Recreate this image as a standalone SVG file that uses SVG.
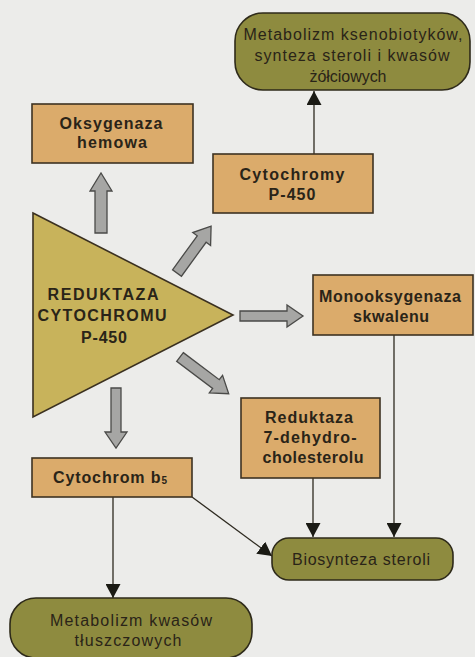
<svg xmlns="http://www.w3.org/2000/svg" width="475" height="657" viewBox="0 0 475 657">
<defs>
<style>
.box{fill:#dbab6b;stroke:#3e3222;stroke-width:1.6}
.term{fill:#8e8b3f;stroke:#2e2a1a;stroke-width:1.6}
.bt{font-family:"Liberation Sans",Arial,sans-serif;font-weight:bold;font-size:16px;fill:#2a2418;text-anchor:middle}
.tt{font-family:"Liberation Sans",Arial,sans-serif;font-size:16px;fill:#2a2418;text-anchor:middle}
.ln{stroke:#2e2a20;stroke-width:1.3;fill:none}
.blk{fill:#a6a6a4;stroke:#4a4a48;stroke-width:1.3}
</style>
<marker id="ahb" viewBox="0 0 10 10" refX="10" refY="5" markerWidth="14" markerHeight="15" markerUnits="userSpaceOnUse" orient="auto" preserveAspectRatio="none">
<path d="M0,0 L10,5 L0,10 z" fill="#1a1a14"/>
</marker>
</defs>
<rect width="475" height="657" fill="#ececea"/>

<g id="connectors">
<line class="ln" x1="314" y1="154" x2="314" y2="91" marker-end="url(#ahb)"/>
<line class="ln" x1="394" y1="335" x2="394" y2="537" marker-end="url(#ahb)"/>
<line class="ln" x1="313" y1="478" x2="313" y2="537" marker-end="url(#ahb)"/>
<line class="ln" x1="113" y1="497" x2="113" y2="598" marker-end="url(#ahb)"/>
<line class="ln" x1="192" y1="497" x2="272" y2="556" marker-end="url(#ahb)"/>
<g id="arrow-up"><path class="blk" d="M95,233 L95,191 L90,191 L101,173 L112,191 L107,191 L107,233 Z"/></g>
<g id="arrow-upright"><path class="blk" d="M0,-5.5 L42,-5.5 L42,-11 L58,0 L42,11 L42,5.5 L0,5.5 Z" transform="translate(177,273) rotate(-54)"/></g>
<g id="arrow-right"><path class="blk" d="M240,311 L287,311 L287,305 L303,316 L287,327 L287,321 L240,321 Z"/></g>
<g id="arrow-downright"><path class="blk" d="M0,-5.5 L45,-5.5 L45,-11 L61,0 L45,11 L45,5.5 L0,5.5 Z" transform="translate(180,357) rotate(37)"/></g>
<g id="arrow-down"><path class="blk" d="M111,388 L111,432 L105,432 L116,448 L127,432 L121,432 L121,388 Z"/></g>
</g>

<g id="reduktaza-cyp">
<polygon points="33,213 233,315 33,417" fill="#c8b35b" stroke="#3a3020" stroke-width="1.6"/>
<text class="bt" x="103" y="300" textLength="111" lengthAdjust="spacing">REDUKTAZA</text>
<text class="bt" x="102" y="321" textLength="129" lengthAdjust="spacing">CYTOCHROMU</text>
<text class="bt" x="104" y="343" textLength="46" lengthAdjust="spacing">P-450</text>
</g>

<g id="metab-kseno">
<rect class="term" x="235" y="13" width="235" height="77" rx="28"/>
<text class="tt" x="353" y="40" textLength="219" lengthAdjust="spacing">Metabolizm ksenobiotyków,</text>
<text class="tt" x="352" y="61" textLength="195" lengthAdjust="spacing">synteza steroli i kwasów</text>
<text class="tt" x="348" y="82" textLength="77" lengthAdjust="spacing">żółciowych</text>
</g>

<g id="oksygenaza">
<rect class="box" x="32" y="104" width="161" height="59"/>
<text class="bt" x="111" y="129" textLength="103" lengthAdjust="spacing">Oksygenaza</text>
<text class="bt" x="112" y="148" textLength="70" lengthAdjust="spacing">hemowa</text>
</g>

<g id="cytochromy">
<rect class="box" x="213" y="154" width="160" height="59"/>
<text class="bt" x="292" y="180" textLength="105" lengthAdjust="spacing">Cytochromy</text>
<text class="bt" x="292" y="200" textLength="47" lengthAdjust="spacing">P-450</text>
</g>

<g id="monooksygenaza">
<rect class="box" x="313" y="275" width="160" height="60"/>
<text class="bt" x="390" y="302" textLength="142" lengthAdjust="spacing">Monooksygenaza</text>
<text class="bt" x="391" y="322" textLength="76" lengthAdjust="spacing">skwalenu</text>
</g>

<g id="reduktaza-7">
<rect class="box" x="241" y="398" width="139" height="80"/>
<text class="bt" x="309" y="423" textLength="88" lengthAdjust="spacing">Reduktaza</text>
<text class="bt" x="310" y="443" textLength="93" lengthAdjust="spacing">7-dehydro-</text>
<text class="bt" x="313" y="463" textLength="101" lengthAdjust="spacing">cholesterolu</text>
</g>

<g id="cytochrom-b5">
<rect class="box" x="32" y="458" width="160" height="39"/>
<text class="bt" x="110" y="483" textLength="114" lengthAdjust="spacing">Cytochrom b<tspan font-size="10" dy="1">5</tspan></text>
</g>

<g id="biosynteza">
<rect class="term" x="272" y="538" width="181" height="42" rx="17"/>
<text class="tt" x="361" y="565" textLength="138" lengthAdjust="spacing">Biosynteza steroli</text>
</g>

<g id="metab-kwasow">
<rect class="term" x="10" y="598" width="242" height="60" rx="26"/>
<text class="tt" x="131" y="626" textLength="162" lengthAdjust="spacing">Metabolizm kwasów</text>
<text class="tt" x="128" y="646" textLength="107" lengthAdjust="spacing">tłuszczowych</text>
</g>
</svg>
